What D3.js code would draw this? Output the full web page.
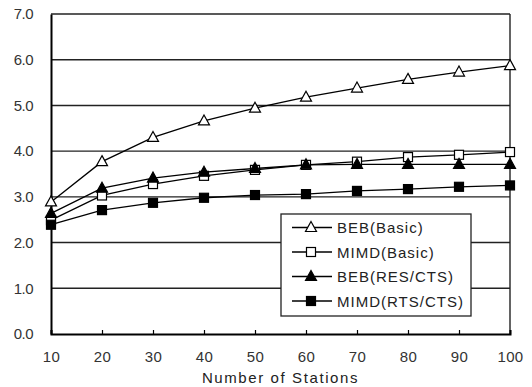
<!DOCTYPE html>
<html lang="en">
<head>
  <meta charset="UTF-8">
  <title>Number of Stations</title>
  <script src="https://d3js.org/d3.v7.min.js"></script>
  <style>
    body { margin: 0; background: #fff; }
    svg { display: block; font-family: "Liberation Sans", Arial, sans-serif; }
  </style>
</head>
<body>
<svg id="chart" width="532" height="387"></svg>
<script>
  // Data
  const stations = [10, 20, 30, 40, 50, 60, 70, 80, 90, 100];
  const bebBasic  = [2.89, 3.77, 4.30, 4.66, 4.94, 5.18, 5.38, 5.57, 5.73, 5.87];
  const mimdBasic = [2.49, 3.03, 3.28, 3.46, 3.59, 3.70, 3.77, 3.87, 3.92, 3.98];
  const bebRts    = [2.64, 3.19, 3.41, 3.54, 3.62, 3.70, 3.71, 3.71, 3.71, 3.71];
  const mimdRts   = [2.39, 2.71, 2.87, 2.98, 3.04, 3.06, 3.13, 3.17, 3.22, 3.25];
  const yTicks = [0, 1, 2, 3, 4, 5, 6, 7];

  const series = [
    { name: "BEB(Basic)", values: bebBasic, shape: "triangle", fill: "#fff" },
    { name: "MIMD(Basic)", values: mimdBasic, shape: "square", fill: "#fff" },
    { name: "BEB(RES/CTS)", values: bebRts, shape: "triangle", fill: "#000" },
    { name: "MIMD(RTS/CTS)", values: mimdRts, shape: "square", fill: "#000" }
  ];

  const svg = d3.select("#chart");
  const margin = { top: 14, right: 22, bottom: 53, left: 51 };
  const width = 532, height = 387;

  const x = d3.scaleLinear().domain([10, 100]).range([margin.left, width - margin.right]);
  const y = d3.scaleLinear().domain([0, 7]).range([height - margin.bottom, margin.top]);

  // gridlines
  svg.append("g")
    .selectAll("line")
    .data(yTicks.filter(d => d > 0))
    .join("line")
    .attr("x1", x(10)).attr("x2", x(100))
    .attr("y1", d => y(d)).attr("y2", d => y(d))
    .attr("stroke", "#222").attr("stroke-width", 1.4);

  // right border
  svg.append("line")
    .attr("x1", x(100)).attr("x2", x(100))
    .attr("y1", y(0)).attr("y2", y(7))
    .attr("stroke", "#222").attr("stroke-width", 1.4);

  // y axis
  const yAxis = svg.append("g")
    .attr("transform", `translate(${margin.left},0)`)
    .call(d3.axisLeft(y).tickValues(yTicks).tickFormat(d3.format(".1f")).tickSize(0).tickPadding(18));
  yAxis.select(".domain").attr("stroke", "#000").attr("stroke-width", 2);
  yAxis.selectAll("text").attr("font-size", 15).attr("fill", "#333").attr("letter-spacing", -0.5);

  // x axis
  const xAxis = svg.append("g")
    .attr("transform", `translate(0,${y(0)})`)
    .call(d3.axisBottom(x).tickValues(stations).tickSize(-4).tickPadding(17));
  xAxis.select(".domain").attr("stroke", "#000").attr("stroke-width", 2);
  xAxis.selectAll(".tick line").attr("stroke", "#000").attr("stroke-width", 1.2);
  xAxis.selectAll("text").attr("font-size", 15).attr("fill", "#333").attr("letter-spacing", 0.3);

  svg.append("text")
    .attr("x", (x(10) + x(100)) / 2)
    .attr("y", 383)
    .attr("text-anchor", "middle")
    .attr("font-size", 15)
    .attr("letter-spacing", 1.6)
    .attr("fill", "#222")
    .text("Number of Stations");

  const line = d3.line().x((d, i) => x(stations[i])).y(d => y(d));

  function drawMarker(g, shape, fill, cx, cy) {
    if (shape === "triangle") {
      g.append("path")
        .attr("d", `M${cx},${cy - 6}L${cx + 5.5},${cy + 4}L${cx - 5.5},${cy + 4}Z`)
        .attr("fill", fill).attr("stroke", "#000").attr("stroke-width", 1.2);
    } else {
      g.append("rect")
        .attr("x", cx - 4.5).attr("y", cy - 4.5)
        .attr("width", 9).attr("height", 9)
        .attr("fill", fill).attr("stroke", "#000").attr("stroke-width", 1.2);
    }
  }

  // lines first, markers on top
  series.forEach(s => {
    svg.append("path")
      .attr("d", line(s.values))
      .attr("fill", "none").attr("stroke", "#000").attr("stroke-width", 1.3);
  });
  series.forEach(s => {
    const g = svg.append("g");
    s.values.forEach((v, i) => drawMarker(g, s.shape, s.fill, x(stations[i]), y(v)));
  });

  // legend
  const legend = svg.append("g");
  legend.append("rect")
    .attr("x", 281).attr("y", 214).attr("width", 190).attr("height", 102)
    .attr("fill", "#fff").attr("stroke", "#222").attr("stroke-width", 1.3);
  series.forEach((s, i) => {
    const ly = 227.5 + i * 24.5;
    legend.append("line")
      .attr("x1", 292).attr("x2", 332).attr("y1", ly).attr("y2", ly)
      .attr("stroke", "#000").attr("stroke-width", 1.3);
    drawMarker(legend, s.shape, s.fill, 311, ly);
    legend.append("text")
      .attr("x", 337).attr("y", ly + 5.5)
      .attr("font-size", 15)
      .attr("letter-spacing", 1.0)
      .attr("fill", "#222")
      .text(s.name);
  });
</script>
</body>
</html>
